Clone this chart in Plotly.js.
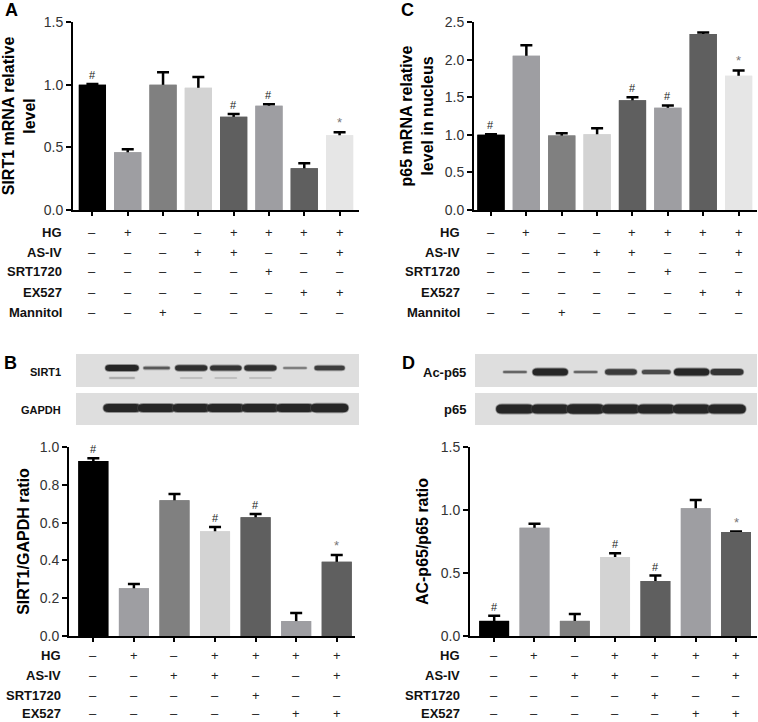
<!DOCTYPE html>
<html>
<head>
<meta charset="utf-8">
<script src="https://cdn.plot.ly/plotly-3.0.1.min.js"></script>
<style>html,body{margin:0;padding:0;background:#fff;}#chart{width:758px;height:722px;}</style>
</head>
<body>
<div id="chart"></div>
<script>
// ---------- DATA ----------
// Panel A: SIRT1 mRNA relative level (8 groups)
const A_values = [1.0, 0.46, 1.0, 0.976, 0.745, 0.832, 0.333, 0.596];
const A_err    = [0.006, 0.025, 0.10, 0.085, 0.02, 0.012, 0.04, 0.025];
const A_marks  = ['#', '', '', '', '#', '#', '', '*'];
// Panel C: p65 mRNA relative level in nucleus (8 groups)
const C_values = [1.0, 2.05, 0.99, 1.007, 1.46, 1.36, 2.34, 1.786];
const C_err    = [0.006, 0.14, 0.03, 0.08, 0.04, 0.03, 0.02, 0.07];
const C_marks  = ['#', '', '', '', '#', '#', '', '*'];
// Panel B: SIRT1/GAPDH ratio (7 groups)
const B_values = [0.926, 0.252, 0.718, 0.554, 0.628, 0.079, 0.393];
const B_err    = [0.014, 0.023, 0.033, 0.023, 0.018, 0.043, 0.036];
const B_marks  = ['#', '', '', '#', '#', '', '*'];
// Panel D: AC-p65/p65 ratio (7 groups)
const D_values = [0.12, 0.86, 0.12, 0.627, 0.437, 1.013, 0.825];
const D_err    = [0.04, 0.03, 0.055, 0.03, 0.043, 0.067, 0.004];
const D_marks  = ['#', '', '', '#', '#', '', '*'];

// Treatment tables
const AC_rowLabels = ['HG', 'AS-IV', 'SRT1720', 'EX527', 'Mannitol'];
const AC_HG       = ['–', '+', '–', '–', '+', '+', '+', '+'];
const AC_ASIV     = ['–', '–', '–', '+', '+', '–', '–', '+'];
const AC_SRT1720  = ['–', '–', '–', '–', '–', '+', '–', '–'];
const AC_EX527    = ['–', '–', '–', '–', '–', '–', '+', '+'];
const AC_Mannitol = ['–', '–', '+', '–', '–', '–', '–', '–'];
const BD_rowLabels = ['HG', 'AS-IV', 'SRT1720', 'EX527'];
const BD_HG      = ['–', '+', '–', '+', '+', '+', '+'];
const BD_ASIV    = ['–', '–', '+', '+', '–', '–', '+'];
const BD_SRT1720 = ['–', '–', '–', '–', '+', '–', '–'];
const BD_EX527   = ['–', '–', '–', '–', '–', '+', '+'];

// Western blot band intensities (relative, per lane)
const B_blotLabels = ['SIRT1', 'GAPDH'];
const B_sirt1      = [1.0, 0.45, 0.9, 0.85, 0.9, 0.22, 0.75];
const B_sirt1Lower = [0.45, 0, 0.2, 0.2, 0.2, 0, 0];
const B_gapdh      = [1, 1, 1, 1, 1, 1, 1.05];
const D_blotLabels = ['Ac-p65', 'p65'];
const D_acp65      = [0.3, 1.0, 0.3, 0.78, 0.6, 1.0, 0.85];
const D_p65        = [1, 1, 1.05, 1, 1, 1, 1];

// ---------- STYLE ----------
const colors8 = ['#000000', '#9e9ea2', '#808080', '#d3d3d3', '#5f5f5f', '#9e9ea2', '#5f5f5f', '#e6e6e6'];
const colors7 = ['#000000', '#9e9ea2', '#808080', '#d3d3d3', '#5f5f5f', '#9e9ea2', '#5f5f5f'];
const FONT = 'Liberation Sans, Arial, Helvetica, sans-serif';
const W = 758, H = 722;
const px = v => v / W;
const py = v => 1 - v / H;
const idx = n => Array.from({length: n}, (_, i) => i);

// error bars drawn symmetric on an under-layer bar trace; an identical bar trace on top hides the lower half
function barTraces(vals, err, cols, xa, ya, width) {
  const base = {type: 'bar', x: idx(vals.length), y: vals, xaxis: xa, yaxis: ya, width: width,
                marker: {color: cols, line: {width: 0}}, hoverinfo: 'skip'};
  return [
    Object.assign({}, base, {error_y: {type: 'data', array: err, symmetric: true, visible: true,
                                       color: '#000', thickness: 2.5, width: 6}}),
    Object.assign({}, base)
  ];
}

const traces = [].concat(
  barTraces(A_values, A_err, colors8, 'x', 'y', 0.77),
  barTraces(C_values, C_err, colors8, 'x2', 'y2', 0.77),
  barTraces(B_values, B_err, colors7, 'x3', 'y3', 0.74),
  barTraces(D_values, D_err, colors7, 'x4', 'y4', 0.74)
);

function xAxis(domain, range, n, anchor) {
  return {domain: domain, range: range, anchor: anchor, tickmode: 'array', tickvals: idx(n),
          ticktext: idx(n).map(() => ''), showticklabels: false, ticks: 'outside', ticklen: 4,
          tickwidth: 2, tickcolor: '#000', showline: true, linecolor: '#000', linewidth: 2,
          showgrid: false, zeroline: false, fixedrange: true};
}
function yAxis(domain, range, dtick, anchor, title, standoff) {
  return {domain: domain, range: range, anchor: anchor, dtick: dtick, tick0: 0, tickformat: '.1f',
          ticks: 'outside', ticklen: 5, tickwidth: 2, tickcolor: '#000', showline: true,
          linecolor: '#000', linewidth: 2, showgrid: false, zeroline: false, fixedrange: true,
          tickfont: {family: FONT, size: 14, color: '#333'}, automargin: false,
          title: {text: title, font: {family: FONT, size: 16, color: '#000', weight: 'bold'}, standoff: standoff}};
}

const layout = {
  width: W, height: H, margin: {l: 0, r: 0, t: 0, b: 0}, barmode: 'overlay',
  paper_bgcolor: '#fff', plot_bgcolor: 'rgba(0,0,0,0)', showlegend: false,
  font: {family: FONT, color: '#222'},
  xaxis:  xAxis([px(73), px(359)], [-0.55, 7.55], 8, 'y'),
  yaxis:  yAxis([py(210), py(22)], [0, 1.5], 0.5, 'x', 'SIRT1 mRNA relative<br>level', 7),
  xaxis2: xAxis([px(474), px(757)], [-0.48, 7.52], 8, 'y2'),
  yaxis2: yAxis([py(210), py(22)], [0, 2.5], 0.5, 'x2', 'p65 mRNA relative<br>level in nucleus', 7),
  xaxis3: xAxis([px(69), px(355)], [-0.6, 6.45], 7, 'y3'),
  yaxis3: yAxis([py(636), py(447)], [0, 1.0], 0.2, 'x3', 'SIRT1/GAPDH ratio', 6),
  xaxis4: xAxis([px(470), px(757)], [-0.6, 6.52], 7, 'y4'),
  yaxis4: yAxis([py(636), py(447)], [0, 1.5], 0.5, 'x4', 'AC-p65/p65 ratio', 8),
  xaxis5: {domain: [px(76), px(359)], range: [-1.33, 6.85], visible: false, anchor: 'y5', fixedrange: true},
  yaxis5: {domain: [py(425), py(354)], range: [425, 354], visible: false, anchor: 'x5', fixedrange: true},
  xaxis6: {domain: [px(475), px(757)], range: [-1.13, 6.85], visible: false, anchor: 'y6', fixedrange: true},
  yaxis6: {domain: [py(425), py(354)], range: [425, 354], visible: false, anchor: 'x6', fixedrange: true},
  annotations: [], shapes: []
};

// significance marks
function addMarks(marks, vals, err, xa, ya) {
  marks.forEach((m, i) => {
    if (!m) return;
    layout.annotations.push({xref: xa, yref: ya, x: i, y: vals[i] + err[i], text: m, showarrow: false,
      yanchor: 'bottom', yshift: m === '*' ? 0 : 1,
      font: {family: FONT, size: m === '*' ? 13 : 11, color: m === '*' ? '#777' : '#222'}});
  });
}
addMarks(A_marks, A_values, A_err, 'x', 'y');
addMarks(C_marks, C_values, C_err, 'x2', 'y2');
addMarks(B_marks, B_values, B_err, 'x3', 'y3');
addMarks(D_marks, D_values, D_err, 'x4', 'y4');

// treatment tables
function addTable(labels, rows, xa, labelX, rowYs) {
  rows.forEach((row, r) => {
    layout.annotations.push({xref: 'paper', yref: 'paper', x: px(labelX), y: py(rowYs[r]), text: labels[r],
      showarrow: false, xanchor: 'right', yanchor: 'middle',
      font: {family: FONT, size: 13, color: '#111', weight: 'bold'}});
    row.forEach((s, i) => {
      layout.annotations.push({xref: xa, yref: 'paper', x: i, y: py(rowYs[r]), text: s, showarrow: false,
        xanchor: 'center', yanchor: 'middle', font: {family: FONT, size: 13, color: '#222'}});
    });
  });
}
addTable(AC_rowLabels, [AC_HG, AC_ASIV, AC_SRT1720, AC_EX527, AC_Mannitol], 'x', 64, [232, 252, 272, 292, 312]);
addTable(AC_rowLabels, [AC_HG, AC_ASIV, AC_SRT1720, AC_EX527, AC_Mannitol], 'x2', 462, [232, 252, 272, 292, 312]);
addTable(BD_rowLabels, [BD_HG, BD_ASIV, BD_SRT1720, BD_EX527], 'x3', 63, [655, 675, 695, 713]);
addTable(BD_rowLabels, [BD_HG, BD_ASIV, BD_SRT1720, BD_EX527], 'x4', 462, [655, 675, 695, 713]);

// panel letters
[['A', 3, 10], ['C', 399, 10], ['B', 2, 363], ['D', 400, 363]].forEach(([t, x, y]) => {
  layout.annotations.push({xref: 'paper', yref: 'paper', x: px(x), y: py(y), text: t, showarrow: false,
    xanchor: 'left', yanchor: 'middle', font: {family: FONT, size: 18, color: '#000', weight: 'bold'}});
});

// ---------- WESTERN BLOTS ----------
function stadium(cx, cy, halfW, halfH, pxPerLane) {
  const r = halfH / pxPerLane;
  const x0 = cx - halfW + r, x1 = cx + halfW - r;
  const t = cy - halfH, b = cy + halfH;
  return `M ${x0},${t} L ${x1},${t} Q ${x1 + r * 1.3},${t} ${x1 + r * 1.3},${cy} Q ${x1 + r * 1.3},${b} ${x1},${b} ` +
         `L ${x0},${b} Q ${x0 - r * 1.3},${b} ${x0 - r * 1.3},${cy} Q ${x0 - r * 1.3},${t} ${x0},${t} Z`;
}
function blotBox(xa, ya, y0, y1) {
  layout.shapes.push({type: 'rect', xref: xa + ' domain', yref: ya, x0: 0, x1: 1, y0: y0, y1: y1,
    fillcolor: '#dedede', line: {width: 0}, layer: 'below'});
}
function bandRow(vals, xa, ya, cy, maxH, baseW, extraW, pxPerLane, shade) {
  vals.forEach((v, i) => {
    if (v <= 0) return;
    const halfH = Math.max(0.8, maxH * v / 2);
    const halfW = (baseW + extraW * v) / 2;
    const g = Math.round(shade + (1 - Math.min(v, 1)) * 90);
    layout.shapes.push({type: 'path', xref: xa, yref: ya, path: stadium(i, cy, halfW, halfH + 1, pxPerLane),
      fillcolor: `rgba(${g + 40},${g + 40},${g + 40},0.55)`, line: {width: 0}});
    layout.shapes.push({type: 'path', xref: xa, yref: ya, path: stadium(i, cy, halfW * 0.97, halfH, pxPerLane),
      fillcolor: `rgb(${g},${g},${g})`, line: {width: 0}});
  });
}
// Panel B blot
blotBox('x5', 'y5', 354, 387);
blotBox('x5', 'y5', 393, 425);
bandRow(B_sirt1, 'x5', 'y5', 368, 6, 0.62, 0.32, 34.6, 38);
bandRow(B_sirt1Lower, 'x5', 'y5', 378, 2.2, 0.6, 0.35, 34.6, 110);
bandRow(B_gapdh, 'x5', 'y5', 408, 8, 0.98, 0.06, 34.6, 38);
// Panel D blot
blotBox('x6', 'y6', 354, 387);
blotBox('x6', 'y6', 393, 425);
bandRow(D_acp65, 'x6', 'y6', 372, 7, 0.55, 0.42, 35.3, 38);
bandRow(D_p65, 'x6', 'y6', 409, 9, 0.98, 0.04, 35.3, 38);

// blot labels
[[B_blotLabels[0], 63, 372, 11], [B_blotLabels[1], 63, 410, 11],
 [D_blotLabels[0], 468, 372, 13], [D_blotLabels[1], 468, 409, 13]].forEach(([t, x, y, s]) => {
  layout.annotations.push({xref: 'paper', yref: 'paper', x: px(x), y: py(y), text: t, showarrow: false,
    xanchor: 'right', yanchor: 'middle', font: {family: FONT, size: s, color: '#111', weight: 'bold'}});
});

Plotly.newPlot('chart', traces, layout, {staticPlot: true, displayModeBar: false});
</script>
</body>
</html>
